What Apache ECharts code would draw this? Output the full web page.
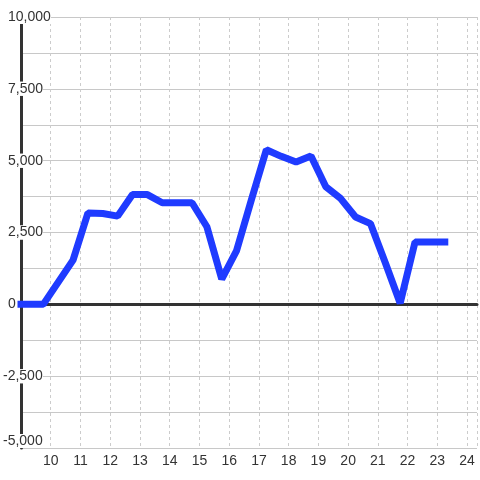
<!DOCTYPE html>
<html>
<head>
<meta charset="utf-8">
<script src="https://cdn.jsdelivr.net/npm/echarts@6/dist/echarts.min.js"></script>
<style>html,body{margin:0;padding:0;background:#fff}#c{width:480px;height:480px}</style>
</head>
<body>
<div id="c"></div>
<script>
const hours = [9, 9.75, 10.75, 11.25, 11.75, 12.25, 12.75, 13.25, 13.75, 14.25, 14.75, 15.25, 15.75, 16.25, 16.75, 17.25, 17.75, 18.25, 18.75, 19.25, 19.75, 20.25, 20.75, 21.25, 21.75, 22.25, 22.75, 23.25];
const values = [0, 0, 1540, 3180, 3160, 3070, 3820, 3820, 3535, 3535, 3535, 2700, 880, 1870, 3650, 5380, 5150, 4950, 5160, 4090, 3680, 3040, 2810, 1450, 40, 2170, 2170, 2170];
const xMin = 9, xMax = 24.3333, xStep = 1;
const yMin = -5000, yMax = 10000, yStep = 1250, yLabelStep = 2500;

const chart = echarts.init(document.getElementById('c'), null, {renderer: 'canvas'});
const font = 'Liberation Sans, Arial, sans-serif';
chart.setOption({
  animation: false,
  grid: {left: 20, right: 0, top: 17, bottom: 32, containLabel: false},
  xAxis: [{
    type: 'value', min: xMin, max: xMax, interval: xStep, position: 'bottom',
    axisLine: {show: false, onZero: false},
    axisTick: {show: false},
    axisLabel: {
      color: '#333', fontSize: 14, fontFamily: font, margin: 6,
      formatter: v => (Number.isInteger(Math.round(v * 1000) / 1000) && v > xMin + 0.5 && v <= 24) ? String(Math.round(v)) : ''
    },
    splitLine: {show: true, lineStyle: {color: '#cccccc', width: 1, type: [3, 3]}}
  }, {
    type: 'value', min: xMin, max: xMax, interval: xStep, position: 'bottom',
    axisLine: {show: true, onZero: true, onZeroAxisIndex: 0, lineStyle: {color: '#333', width: 3}},
    axisTick: {show: false}, axisLabel: {show: false}, splitLine: {show: false}
  }],
  yAxis: {
    type: 'value', min: yMin, max: yMax, interval: yStep, position: 'left',
    axisLine: {show: true, onZero: false, lineStyle: {color: '#333', width: 3}},
    axisTick: {show: false},
    axisLabel: {
      color: '#333', fontSize: 14, fontFamily: font, margin: 18, align: 'left',
      backgroundColor: '#fff',
      verticalAlignMinLabel: 'bottom',
      formatter: v => {
        if (v % yLabelStep !== 0) return '';
        const s = v.toLocaleString('en-US');
        return v < 0 ? '{n|' + s + '}' : '{p|' + s + '}';
      },
      rich: {
        n: {color: '#333', fontSize: 14, fontFamily: font, backgroundColor: '#fff'},
        p: {color: '#333', fontSize: 14, fontFamily: font, backgroundColor: '#fff', padding: [0, 0, 0, 5]}
      }
    },
    splitLine: {show: true, lineStyle: {color: '#c8c8c8', width: 1}}
  },
  series: [{
    type: 'line', xAxisIndex: 0,
    data: hours.map((h, i) => [h, values[i]]),
    showSymbol: false, symbol: 'none', clip: false,
    lineStyle: {color: '#1f3bff', width: 7, cap: 'square', join: 'bevel'},
    z: 5
  }]
});
</script>
</body>
</html>
